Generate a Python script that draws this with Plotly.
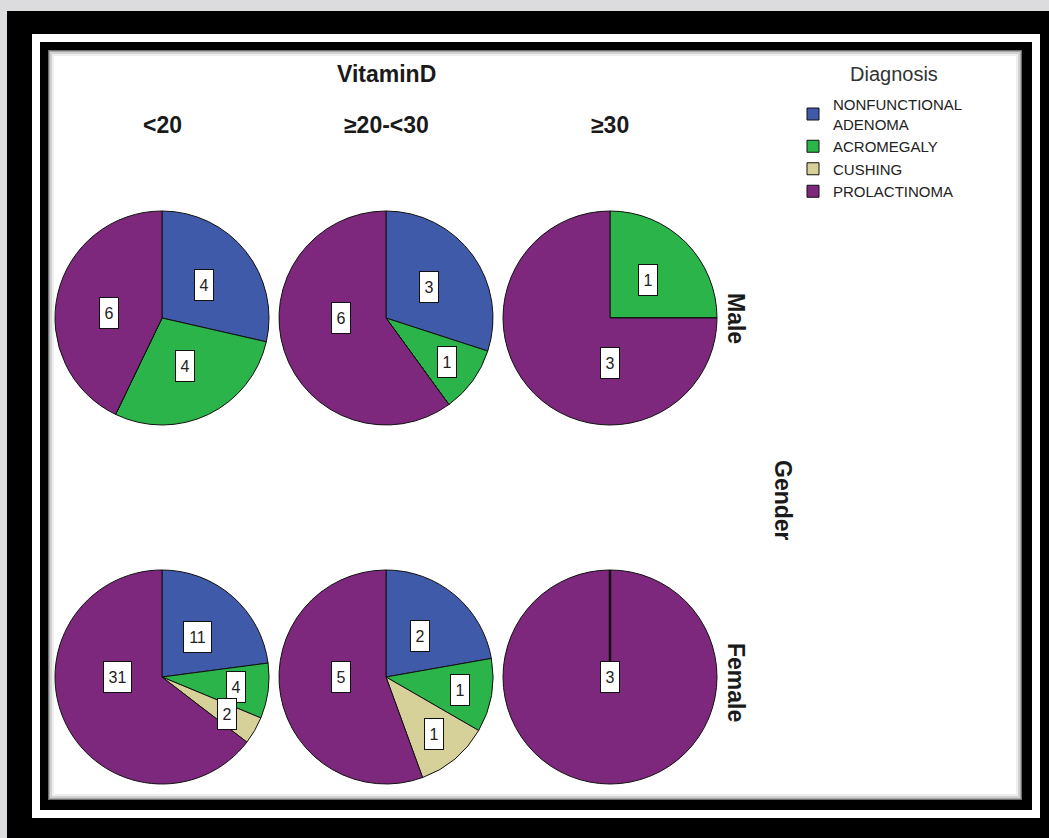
import math
import plotly.graph_objects as go

W, H = 1049, 838

# ---------------- data ----------------
diagnoses = ["NONFUNCTIONAL<br>ADENOMA", "ACROMEGALY", "CUSHING", "PROLACTINOMA"]
colors = ["#3E5AA8", "#2BB449", "#D6D199", "#7D287D"]
vitd_levels = ["<20", "≥20-<30", "≥30"]
genders = ["Male", "Female"]

male_nonfunctional = [4, 3, 0]
male_acromegaly = [4, 1, 1]
male_cushing = [0, 0, 0]
male_prolactinoma = [6, 6, 3]

female_nonfunctional = [11, 2, 0]
female_acromegaly = [4, 1, 0]
female_cushing = [2, 1, 0]
female_prolactinoma = [31, 5, 3]

counts = {
    "Male": [male_nonfunctional, male_acromegaly, male_cushing, male_prolactinoma],
    "Female": [female_nonfunctional, female_acromegaly, female_cushing, female_prolactinoma],
}

# ---------------- layout geometry (pixels) ----------------
col_cx = [162, 386, 610]
row_cy = [318, 677]
R = 107
FONT = "Arial, Liberation Sans, sans-serif"
HDR = 23


def px(x):
    return x / W


def py(y):
    return 1 - y / H


fig = go.Figure()
annotations = []
shapes = []


def rect(x0, y0, x1, y1, color):
    shapes.append(dict(type="rect", xref="paper", yref="paper", layer="below",
                       x0=px(x0), x1=px(x1), y0=py(y1), y1=py(y0),
                       fillcolor=color, line=dict(width=0)))


# double black frame with soft inner shadow
rect(7, 11, 1060, 850, "#000000")
rect(32, 34, 1040, 818, "#FFFFFF")
rect(40, 42, 1032, 810, "#000000")
rect(48, 50, 1022, 800, "#6E6E6E")
rect(49, 51, 1021, 799, "#A8A8A8")
rect(50, 52, 1020, 798, "#D2D2D2")
rect(52, 54, 1018, 796, "#EEEEEE")
rect(54, 56, 1016, 794, "#FFFFFF")


def sector_bbox_center(a0, a1):
    pts = [(0.0, 0.0), (math.sin(math.radians(a0)), math.cos(math.radians(a0))),
           (math.sin(math.radians(a1)), math.cos(math.radians(a1)))]
    for c in (0, 90, 180, 270, 360):
        if a0 <= c <= a1:
            pts.append((math.sin(math.radians(c)), math.cos(math.radians(c))))
    xs = [p[0] for p in pts]
    ys = [p[1] for p in pts]
    return (min(xs) + max(xs)) / 2, (min(ys) + max(ys)) / 2


def text_ann(x, y, text, size, angle=0, color="#1a1a1a", **kw):
    d = dict(x=px(x), y=py(y), xref="paper", yref="paper", text=text, showarrow=False,
             xanchor="center", yanchor="middle", textangle=angle,
             font=dict(family=FONT, size=size, color=color))
    d.update(kw)
    annotations.append(d)


for ri, g in enumerate(genders):
    for ci, lvl in enumerate(vitd_levels):
        vals = [series[ci] for series in counts[g]]
        cx, cy = col_cx[ci], row_cy[ri]
        fig.add_trace(go.Pie(
            labels=diagnoses, values=vals, sort=False, direction="clockwise",
            rotation=0, textinfo="none", hoverinfo="label+value",
            marker=dict(colors=colors, line=dict(color="#111111", width=1)),
            domain=dict(x=[px(cx - R), px(cx + R)], y=[py(cy + R), py(cy - R)]),
            showlegend=True, name=f"{g} {lvl}",
        ))
        total = sum(vals)
        cum = 0
        for v in vals:
            if v <= 0:
                continue
            f = v / total
            a0 = cum / total * 360
            a1 = (cum + v) / total * 360
            cum += v
            if f >= 0.999:
                lx, ly = 0.0, 0.0
            elif f > 0.4:
                bx, by = sector_bbox_center(a0, a1)
                d = math.hypot(bx, by)
                ang = math.radians(180) if d < 0.05 else math.atan2(bx, by)
                rr = max(d, 0.42)
                lx, ly = rr * math.sin(ang), rr * math.cos(ang)
            else:
                mid = math.radians((a0 + a1) / 2)
                rr = 0.5 if f >= 0.2 else 0.7
                lx, ly = rr * math.sin(mid), rr * math.cos(mid)
            txt = str(v)
            text_ann(cx + lx * R, cy - ly * R, txt, 16, color="#222222",
                     bgcolor="#FFFFFF", bordercolor="#111111", borderwidth=1, borderpad=3,
                     width=9 * len(txt) + 3, height=24, align="center", valign="middle")
        if total > 0 and max(vals) == total:
            # boundary of the empty slices at 12 o'clock
            shapes.append(dict(type="line", xref="paper", yref="paper", layer="above",
                               x0=px(cx), x1=px(cx), y0=py(cy), y1=py(cy - R),
                               line=dict(color="#111111", width=2.5)))

# headers
text_ann(386, 74, "<b>VitaminD</b>", HDR)
for ci, lvl in enumerate(vitd_levels):
    text_ann(col_cx[ci], 125, f"<b>{lvl.replace('<', '&lt;')}</b>", HDR)
for ri, g in enumerate(genders):
    text_ann(736, row_cy[ri] + (5 if ri else 0), f"<b>{g}</b>", HDR, angle=90)
text_ann(783, 500, "<b>Gender</b>", HDR, angle=90)

# legend title
text_ann(894, 74, "Diagnosis", 20, color="#333333")

fig.update_layout(
    width=W, height=H, autosize=False,
    margin=dict(l=0, r=0, t=0, b=0, pad=0),
    paper_bgcolor="#DCDCDE", plot_bgcolor="#FFFFFF",
    shapes=shapes, annotations=annotations,
    legend=dict(
        x=px(793), y=py(88), xanchor="left", yanchor="top",
        bgcolor="rgba(0,0,0,0)", borderwidth=0,
        font=dict(family=FONT, size=15, color="#222222"),
        tracegroupgap=0, itemclick=False, itemdoubleclick=False,
    ),
)

fig.write_html("out.html", config={"displayModeBar": False})
